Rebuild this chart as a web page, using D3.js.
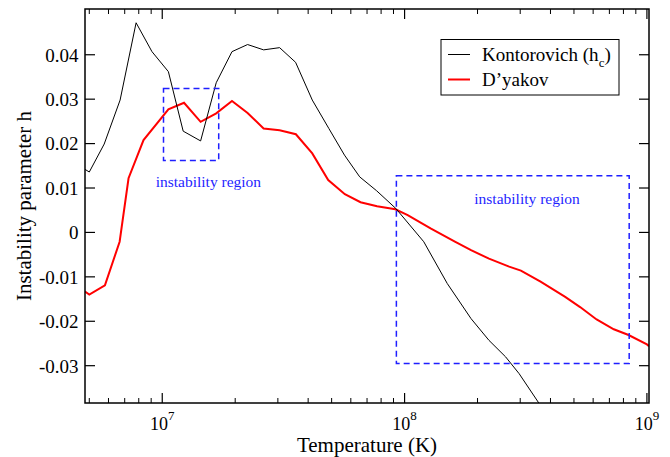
<!DOCTYPE html>
<html><head><meta charset="utf-8">
<script src="https://cdn.jsdelivr.net/npm/d3@7"></script>
<style>body{margin:0;background:#fff}svg{display:block}text{font-family:"Liberation Serif","Times New Roman",serif}</style>
</head><body>
<svg id="c" width="670" height="457"></svg>
<script>
// Data
const kontT = [4.8e6,5.0e6,5.76e6,6.7e6,7.8e6,9.07e6,1.06e7,1.22e7,1.44e7,1.67e7,1.94e7,2.25e7,2.62e7,3.05e7,3.55e7,4.16e7,4.87e7,5.65e7,6.53e7,7.66e7,9.2e7,1.2e8,1.5e8,1.88e8,2.23e8,2.61e8,2.97e8,3.6e8];
const kontH = [0.0142,0.0136,0.0199,0.0298,0.0472,0.0407,0.0362,0.0228,0.0206,0.0337,0.0407,0.0423,0.0411,0.0416,0.0383,0.0298,0.0234,0.0174,0.0125,0.0094,0.0054,-0.0021,-0.0115,-0.0194,-0.0243,-0.0280,-0.0318,-0.0386];
const dyakT = [4.8e6,5.0e6,5.8e6,6.67e6,7.26e6,8.37e6,1.06e7,1.23e7,1.44e7,1.67e7,1.94e7,2.25e7,2.62e7,3.05e7,3.56e7,4.16e7,4.84e7,5.67e7,6.58e7,7.7e7,9.16e7,1.03e8,1.28e8,1.62e8,1.88e8,2.23e8,2.7e8,3.02e8,3.64e8,4.6e8,5.3e8,6.2e8,7.3e8,8.4e8,1.0e9,1.02e9];
const dyakH = [-0.0133,-0.0140,-0.0119,-0.0021,0.0122,0.0208,0.0277,0.0292,0.0249,0.0268,0.0296,0.0269,0.0234,0.0230,0.0221,0.0178,0.0118,0.0086,0.0068,0.0059,0.0052,0.0039,0.0009,-0.0021,-0.0040,-0.0059,-0.0077,-0.0086,-0.0111,-0.0145,-0.0168,-0.0196,-0.0218,-0.0231,-0.0252,-0.0256];
const yTicks = [-0.03,-0.02,-0.01,0,0.01,0.02,0.03,0.04];
const yTickLabels = ["-0.03","-0.02","-0.01","0","0.01","0.02","0.03","0.04"];
const xMajor = [1e7,1e8,1e9];
const xMajorExp = ["7","8","9"];
const regions = [
  {t0:1.012e7, t1:1.71e7, h0:0.0162, h1:0.0324, label:"instability region", lt:1.55e7, lh:0.0103},
  {t0:9.25e7, t1:8.45e8, h0:-0.0295, h1:0.01275, label:"instability region", lt:3.2e8, lh:0.0064}
];
const seriesNames = ["Kontorovich (h","D\u2019yakov"];

const svg = d3.select("#c");
const L=85,R=649,T=9,B=403;
const x = d3.scaleLog().domain([4.8e6,1.02e9]).range([L,R]);
const y = d3.scaleLinear().domain([-0.0384,0.0503]).range([B,T]);

const defs = svg.append("defs");
defs.append("clipPath").attr("id","clip").append("rect").attr("x",L).attr("y",T).attr("width",R-L).attr("height",B-T);

// minor ticks
const minor=[];
for(let d=6; d<=9; d++) for(let m=2;m<=9;m++){const v=m*Math.pow(10,d); if(v>4.8e6 && v<1.02e9) minor.push(v);}
const g = svg.append("g");
minor.forEach(v=>{
  g.append("line").attr("x1",x(v)).attr("x2",x(v)).attr("y1",B).attr("y2",B-5).attr("stroke","#000").attr("stroke-width",1);
  g.append("line").attr("x1",x(v)).attr("x2",x(v)).attr("y1",T).attr("y2",T+5).attr("stroke","#000").attr("stroke-width",1);
});
xMajor.forEach((v,i)=>{
  g.append("line").attr("x1",x(v)).attr("x2",x(v)).attr("y1",B).attr("y2",B-10).attr("stroke","#000").attr("stroke-width",1.2);
  g.append("line").attr("x1",x(v)).attr("x2",x(v)).attr("y1",T).attr("y2",T+10).attr("stroke","#000").attr("stroke-width",1.2);
  const t = g.append("text").attr("x",x(v)).attr("y",430).attr("text-anchor","middle").attr("font-size",18);
  t.append("tspan").text("10");
  t.append("tspan").attr("dy",-10).attr("font-size",13).text(xMajorExp[i]);
});
yTicks.forEach((v,i)=>{
  g.append("line").attr("x1",L).attr("x2",L+10).attr("y1",y(v)).attr("y2",y(v)).attr("stroke","#000").attr("stroke-width",1.2);
  g.append("line").attr("x1",R).attr("x2",R-10).attr("y1",y(v)).attr("y2",y(v)).attr("stroke","#000").attr("stroke-width",1.2);
  g.append("text").attr("x",78.5).attr("y",y(v)).attr("dy","0.36em").attr("text-anchor","end").attr("font-size",19).text(yTickLabels[i]);
});

// lines
const line = d3.line().x(d=>x(d[0])).y(d=>y(d[1]));
const pg = svg.append("g").attr("clip-path","url(#clip)");
pg.append("path").datum(dyakT.map((t,i)=>[t,dyakH[i]])).attr("d",line).attr("fill","none").attr("stroke","#ff0000").attr("stroke-width",2);
pg.append("path").datum(kontT.map((t,i)=>[t,kontH[i]])).attr("d",line).attr("fill","none").attr("stroke","#000").attr("stroke-width",1);

// regions
regions.forEach(r=>{
  svg.append("rect").attr("x",x(r.t0)).attr("y",y(r.h1)).attr("width",x(r.t1)-x(r.t0)).attr("height",y(r.h0)-y(r.h1))
    .attr("fill","none").attr("stroke","#1f1fff").attr("stroke-width",1.5).attr("stroke-dasharray","6,4");
  svg.append("text").attr("x",x(r.lt)).attr("y",y(r.lh)).attr("text-anchor","middle").attr("font-size",15.5).attr("fill","#1f1fff").text(r.label);
});

// frame
svg.append("rect").attr("x",L).attr("y",T).attr("width",R-L).attr("height",B-T).attr("fill","none").attr("stroke","#000").attr("stroke-width",1.5);

// legend
const lg = svg.append("g");
lg.append("rect").attr("x",441).attr("y",39.5).attr("width",178).attr("height",55.5).attr("fill","#fff").attr("stroke","#000").attr("stroke-width",1);
const colors=["#000","#ff0000"], widths=[1,2];
seriesNames.forEach((n,i)=>{
  const yy = 54.5+i*25;
  lg.append("line").attr("x1",448).attr("x2",470).attr("y1",yy).attr("y2",yy).attr("stroke",colors[i]).attr("stroke-width",widths[i]);
  const t = lg.append("text").attr("x",482).attr("y",yy).attr("dy","0.35em").attr("font-size",19);
  t.append("tspan").text(n);
  if(i===0){ t.append("tspan").attr("dy",6).attr("font-size",13).text("c"); t.append("tspan").attr("dy",-6).text(")"); }
});

// axis titles
svg.append("text").attr("x",367).attr("y",452).attr("text-anchor","middle").attr("font-size",21).text("Temperature (K)");
svg.append("text").attr("transform","translate(31,206) rotate(-90)").attr("text-anchor","middle").attr("font-size",21).text("Instability parameter h");
</script>
</body></html>
